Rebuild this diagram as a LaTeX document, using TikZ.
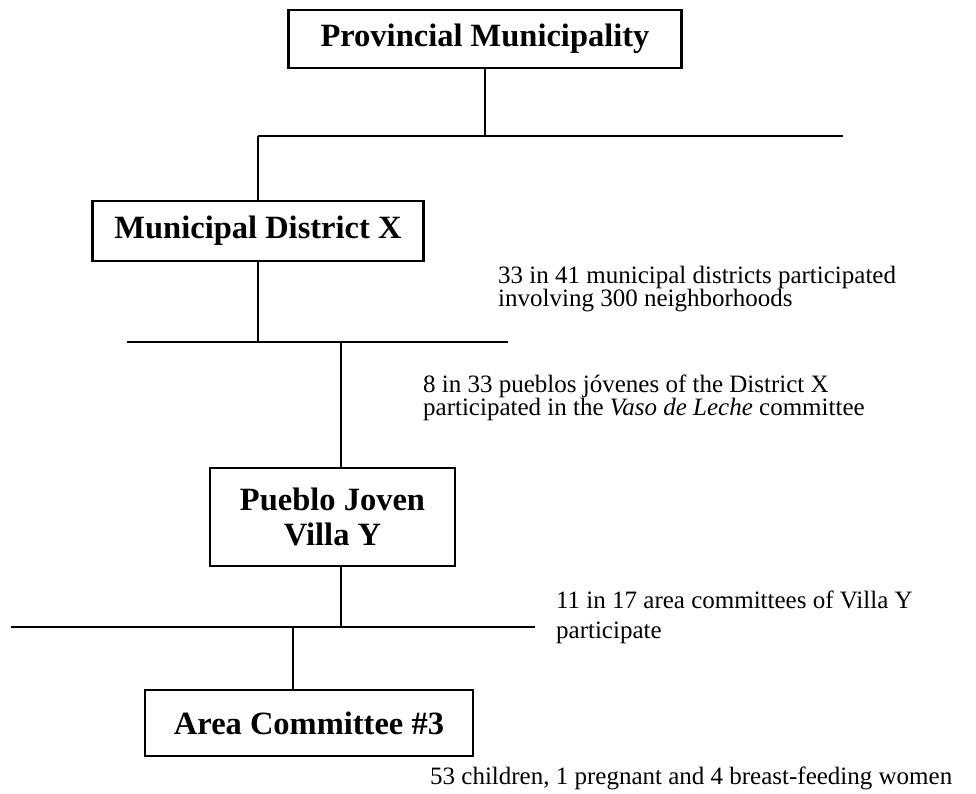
\documentclass[tikz,border=0pt]{standalone}
\usepackage{fontspec}
\setmainfont{Liberation Serif}
\usetikzlibrary{positioning}

\tikzset{
  unit/.style={draw,line width=2.8pt,inner sep=0pt,align=center,
    font=\fontsize{32.5}{35}\selectfont\bfseries},
  note/.style={inner sep=0pt,anchor=west,align=left,
    font=\fontsize{25}{23}\selectfont},
}

\begin{document}
\begin{tikzpicture}[x=1pt,y=-1pt,line width=2.3pt]
  \useasboundingbox (0,0) rectangle (976,793);
  % boxes
  \node (pm) [unit,minimum width=393,minimum height=58] at (485,39) {Provincial Municipality};
  \node (md) [unit,minimum width=331,minimum height=60] at (258,231) {Municipal District X};
  \node (pj) [unit,minimum width=245,minimum height=98] at (332.5,517) {Pueblo Joven\\Villa Y};
  \node (ac) [unit,minimum width=328,minimum height=66] at (309,723) {Area Committee \#3};
  % notes
  \node (n1) [note] at (497,289) {33 in 41 municipal districts participated\\involving 300 neighborhoods};
  \node (n2) [note] at (422,398) {8 in 33 pueblos jóvenes of the District X\\participated in the \textit{Vaso de Leche} committee};
  \node (n3) [note,font=\fontsize{25}{30}\selectfont] at (555,617) {11 in 17 area committees of Villa Y\\participate};
  \node (n4) [note] at (429,778) {53 children, 1 pregnant and 4 breast-feeding women};
  % bars
  \coordinate (b1l) at (258,136); \coordinate (b1r) at (843,136);
  \coordinate (b2l) at (127,342); \coordinate (b2r) at (508,342);
  \coordinate (b3l) at (11,627);  \coordinate (b3r) at (535,627);
  \coordinate (d2) at (341,342);
  \coordinate (d3) at (341,627);
  \coordinate (d4) at (293,627);
  \draw (b1l)--(b1r);
  \draw (b2l)--(b2r);
  \draw (b3l)--(b3r);
  % links
  \draw (pm.south)--(pm.south |- b1l);
  \draw (md.north |- b1l)--(md.north);
  \draw (md.south)--(md.south |- b2l);
  \draw (d2)--(d2 |- pj.north);
  \draw (d3 |- pj.south)--(d3);
  \draw (d4)--(d4 |- ac.north);
\end{tikzpicture}
\end{document}
